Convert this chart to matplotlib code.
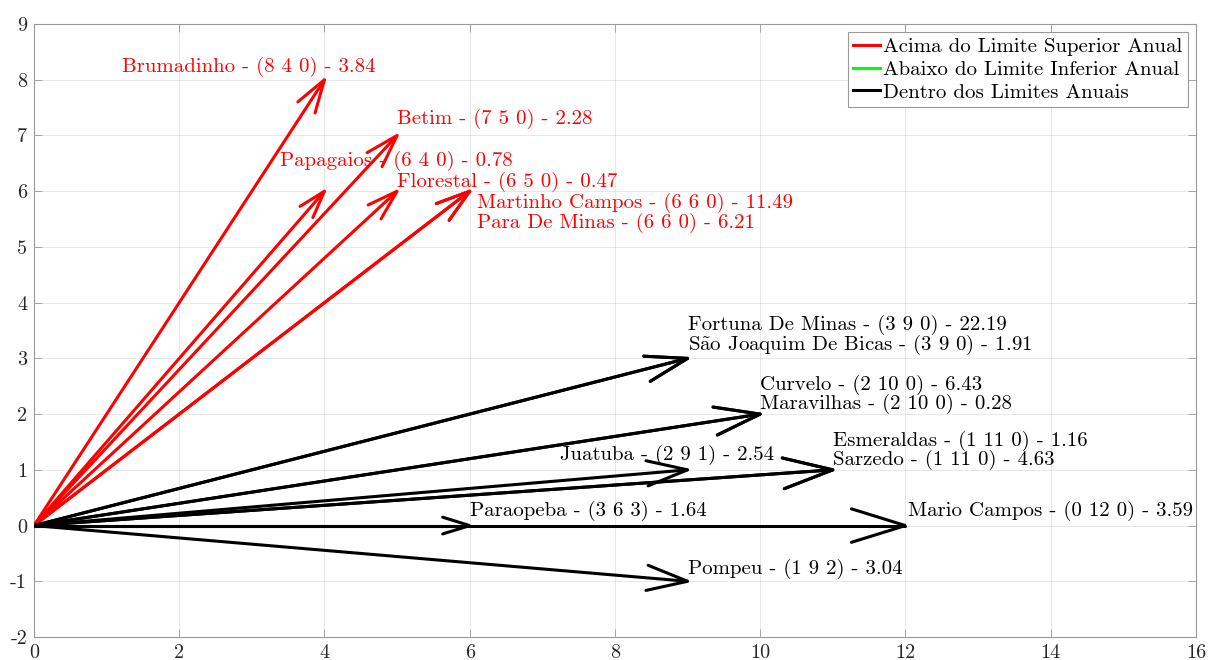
import numpy as np
import matplotlib.pyplot as plt
from matplotlib.lines import Line2D

plt.rcParams['font.family'] = ['cmr10', 'DejaVu Serif']
plt.rcParams['mathtext.fontset'] = 'cm'

# municipios, contagens (a b c), indice e situacao em relacao aos limites
cidades = ["Brumadinho", "Betim", "Papagaios", "Florestal", "Martinho Campos",
           "Para De Minas", "Fortuna De Minas", r"S$\mathrm{\tilde{a}}$o Joaquim De Bicas",
           "Curvelo", "Maravilhas", "Esmeraldas", "Sarzedo", "Juatuba",
           "Paraopeba", "Mario Campos", "Pompeu"]
a = [8, 7, 6, 6, 6, 6, 3, 3, 2, 2, 1, 1, 2, 3, 0, 1]
b = [4, 5, 4, 5, 6, 6, 9, 9, 10, 10, 11, 11, 9, 6, 12, 9]
c = [0, 0, 0, 0, 0, 0, 0, 0, 0, 0, 0, 0, 1, 3, 0, 2]
indice = [3.84, 2.28, 0.78, 0.47, 11.49, 6.21, 22.19, 1.91, 6.43, 0.28,
          1.16, 4.63, 2.54, 1.64, 3.59, 3.04]
situacao = ["acima"] * 6 + ["dentro"] * 10

# deslocamento do rotulo em relacao a ponta da seta
dx = [-2.79, 0, -0.61, 0, 0.1, 0.1, 0, 0, 0, 0, 0, 0, -1.76, 0, 0.03, 0]
dy = [0.23, 0.29, 0.54, 0.16, -0.21, -0.57, 0.6, 0.24, 0.52, 0.18,
      0.51, 0.17, 0.26, 0.26, 0.26, 0.23]

cores = {"acima": (1, 0, 0), "abaixo": (0, 1, 0), "dentro": (0, 0, 0)}
cinza = (0.6, 0.6, 0.6)

fig = plt.figure(figsize=(12.09, 6.6), dpi=100)
ax = fig.add_axes([0.0281, 0.0348, 0.9611, 0.9288])
ax.set_xlim(0, 16)
ax.set_ylim(-2, 9)

# ponta da seta calculada em pixels, proporcional ao comprimento do vetor
alpha, beta = 0.062, 0.31
T = ax.transData
for i in range(len(cidades)):
    u = b[i]
    v = a[i] - c[i]
    cor = cores[situacao[i]]
    ax.plot([0, u], [0, v], color=cor, lw=2.2, solid_capstyle='round', zorder=3)
    p0 = T.transform((0, 0))
    p1 = T.transform((u, v))
    d = p1 - p0
    n = np.array([-d[1], d[0]])
    h1 = p1 - alpha * (d + beta * n)
    h2 = p1 - alpha * (d - beta * n)
    cabeca = T.inverted().transform(np.array([h1, p1, h2]))
    ax.plot(cabeca[:, 0], cabeca[:, 1], color=cor, lw=2.2,
            solid_joinstyle='miter', solid_capstyle='round', zorder=3)
    rotulo = f"{cidades[i]} - ({a[i]} {b[i]} {c[i]}) - {indice[i]:.2f}"
    ax.text(u + dx[i], v + dy[i], rotulo, color=cor, fontsize=15,
            ha='left', va='center', zorder=4)

ax.set_xticks(range(0, 17, 2))
ax.set_xticklabels([str(t) for t in range(0, 17, 2)])
ax.set_yticks(range(-2, 10))
ax.set_yticklabels([str(t) for t in range(-2, 10)])
ax.tick_params(direction='in', length=6, width=0.6, color=cinza,
               labelcolor=(0.15, 0.15, 0.15), labelsize=14.5, top=True, right=True,
               pad=5)
ax.grid(True, color=(0.15, 0.15, 0.15), alpha=0.12, lw=0.6)
for s in ax.spines.values():
    s.set_color(cinza)
    s.set_linewidth(0.8)

handles = [Line2D([], [], color=cores[k], lw=2.2) for k in ("acima", "abaixo", "dentro")]
leg = ax.legend(handles, ["Acima do Limite Superior Anual",
                          "Abaixo do Limite Inferior Anual",
                          "Dentro dos Limites Anuais"],
                loc='upper right', fontsize=15, fancybox=False, framealpha=1,
                handlelength=1.3, handletextpad=0.15, borderpad=0.25,
                labelspacing=0.2, borderaxespad=0.4)
leg.get_frame().set_edgecolor(cinza)
leg.get_frame().set_linewidth(0.8)

fig.savefig("out.png", dpi=100)
